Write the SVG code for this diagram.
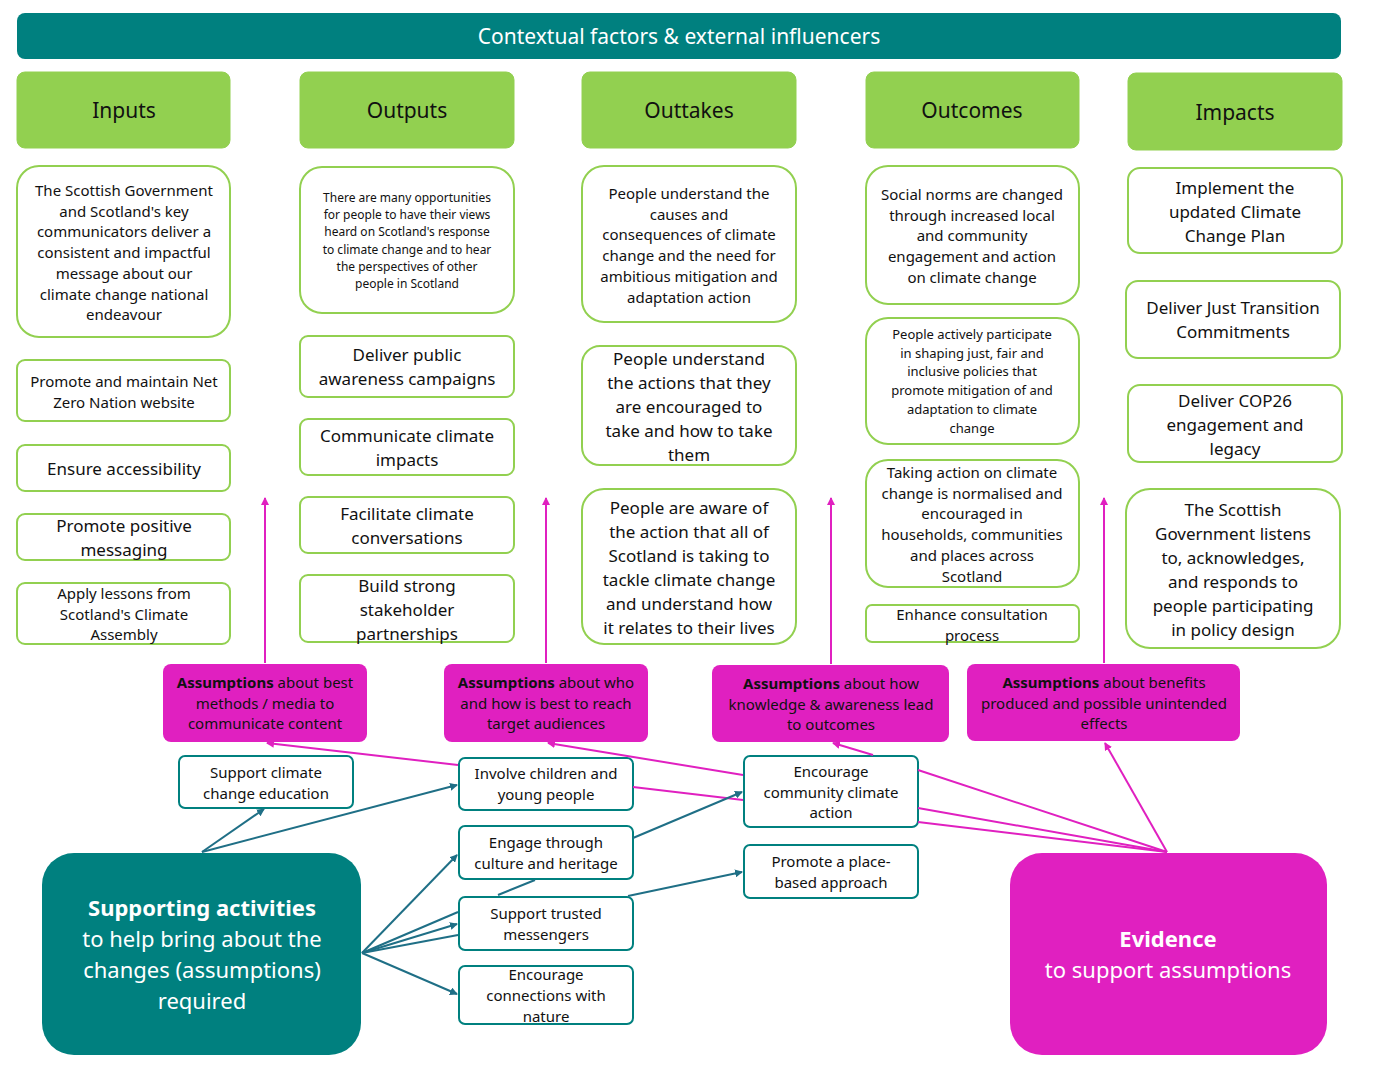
<svg xmlns="http://www.w3.org/2000/svg" width="1378" height="1065" viewBox="0 0 1378 1065">
<defs>
<marker id="at" markerWidth="8" markerHeight="8" refX="7" refY="4" orient="auto" markerUnits="userSpaceOnUse"><path d="M0,0 L8,4 L0,8 z" fill="#1f6f86"/></marker>
<marker id="am" markerWidth="8" markerHeight="8" refX="7" refY="4" orient="auto" markerUnits="userSpaceOnUse"><path d="M0,0 L8,4 L0,8 z" fill="#e020c0"/></marker>
</defs>
<style>
text{font-family:"Noto Sans","Liberation Sans",sans-serif;text-anchor:middle;fill:#111}
.hd{fill:#92d050;stroke:#92d050}
.hdt{font-size:21px}
.bx{fill:#fff;stroke:#92d050;stroke-width:2}
.tb{fill:#fff;stroke:#00807f;stroke-width:2}
.as{fill:#e020c0}
.t15{font-size:15px}.t17{font-size:17px}.t13{font-size:13px}.t12{font-size:12px}.t14{font-size:14px}
.tl{stroke:#1f6f86;stroke-width:2;fill:none}
.mg{stroke:#e020c0;stroke-width:2;fill:none}
.w{fill:#fff}
</style>
<rect x="17" y="13" width="1324" height="46" rx="8" fill="#00807f"/>
<text x="679" y="44" class="w" style="font-size:21px">Contextual factors &amp; external influencers</text>
<g id="headers">
<rect class="hd" x="17" y="72" width="213" height="76" rx="8"/><text class="hdt" x="124" y="118">Inputs</text>
<rect class="hd" x="300" y="72" width="214" height="76" rx="8"/><text class="hdt" x="407" y="118">Outputs</text>
<rect class="hd" x="582" y="72" width="214" height="76" rx="8"/><text class="hdt" x="689" y="118">Outtakes</text>
<rect class="hd" x="866" y="72" width="213" height="76" rx="8"/><text class="hdt" x="972" y="118">Outcomes</text>
<rect class="hd" x="1128" y="73" width="214" height="77" rx="8"/><text class="hdt" x="1235" y="120">Impacts</text>
</g>
<g id="inputs">
<rect class="bx" x="17" y="166" width="213" height="171" rx="22"/>
<text class="t15" x="124" y="196">The Scottish Government<tspan x="124" dy="20.7">and Scotland's key</tspan><tspan x="124" dy="20.7">communicators deliver a</tspan><tspan x="124" dy="20.7">consistent and impactful</tspan><tspan x="124" dy="20.7">message about our</tspan><tspan x="124" dy="20.7">climate change national</tspan><tspan x="124" dy="20.7">endeavour</tspan></text>
<rect class="bx" x="17" y="360" width="213" height="61" rx="8"/>
<text class="t15" x="124" y="387">Promote and maintain Net<tspan x="124" dy="20.5">Zero Nation website</tspan></text>
<rect class="bx" x="17" y="445" width="213" height="46" rx="8"/>
<text class="t17" x="124" y="475">Ensure accessibility</text>
<rect class="bx" x="17" y="514" width="213" height="46" rx="8"/>
<text class="t17" x="124" y="532">Promote positive<tspan x="124" dy="24">messaging</tspan></text>
<rect class="bx" x="17" y="583" width="213" height="61" rx="8"/>
<text class="t15" x="124" y="599">Apply lessons from<tspan x="124" dy="20.5">Scotland's Climate</tspan><tspan x="124" dy="20.5">Assembly</tspan></text>
</g>
<g id="outputs">
<rect class="bx" x="300" y="167" width="214" height="146" rx="22"/>
<text class="t12" x="407" y="202">There are many opportunities<tspan x="407" dy="17.2">for people to have their views</tspan><tspan x="407" dy="17.2">heard on Scotland's response</tspan><tspan x="407" dy="17.2">to climate change and to hear</tspan><tspan x="407" dy="17.2">the perspectives of other</tspan><tspan x="407" dy="17.2">people in Scotland</tspan></text>
<rect class="bx" x="300" y="336" width="214" height="61" rx="8"/>
<text class="t17" x="407" y="361">Deliver public<tspan x="407" dy="24">awareness campaigns</tspan></text>
<rect class="bx" x="300" y="419" width="214" height="56" rx="8"/>
<text class="t17" x="407" y="442">Communicate climate<tspan x="407" dy="24">impacts</tspan></text>
<rect class="bx" x="300" y="497" width="214" height="56" rx="8"/>
<text class="t17" x="407" y="520">Facilitate climate<tspan x="407" dy="24">conversations</tspan></text>
<rect class="bx" x="300" y="575" width="214" height="67" rx="8"/>
<text class="t17" x="407" y="592">Build strong<tspan x="407" dy="24">stakeholder</tspan><tspan x="407" dy="24">partnerships</tspan></text>
</g>
<g id="outtakes">
<rect class="bx" x="582" y="166" width="214" height="156" rx="22"/>
<text class="t15" x="689" y="199">People understand the<tspan x="689" dy="20.7">causes and</tspan><tspan x="689" dy="20.7">consequences of climate</tspan><tspan x="689" dy="20.7">change and the need for</tspan><tspan x="689" dy="20.7">ambitious mitigation and</tspan><tspan x="689" dy="20.7">adaptation action</tspan></text>
<rect class="bx" x="582" y="346" width="214" height="119" rx="18"/>
<text class="t17" x="689" y="365">People understand<tspan x="689" dy="24">the actions that they</tspan><tspan x="689" dy="24">are encouraged to</tspan><tspan x="689" dy="24">take and how to take</tspan><tspan x="689" dy="24">them</tspan></text>
<rect class="bx" x="582" y="489" width="214" height="155" rx="22"/>
<text class="t17" x="689" y="514">People are aware of<tspan x="689" dy="24">the action that all of</tspan><tspan x="689" dy="24">Scotland is taking to</tspan><tspan x="689" dy="24">tackle climate change</tspan><tspan x="689" dy="24">and understand how</tspan><tspan x="689" dy="24">it relates to their lives</tspan></text>
</g>
<g id="outcomes">
<rect class="bx" x="866" y="166" width="213" height="138" rx="22"/>
<text class="t15" x="972" y="200">Social norms are changed<tspan x="972" dy="20.7">through increased local</tspan><tspan x="972" dy="20.7">and community</tspan><tspan x="972" dy="20.7">engagement and action</tspan><tspan x="972" dy="20.7">on climate change</tspan></text>
<rect class="bx" x="866" y="318" width="213" height="126" rx="22"/>
<text class="t13" x="972" y="339">People actively participate<tspan x="972" dy="18.7">in shaping just, fair and</tspan><tspan x="972" dy="18.7">inclusive policies that</tspan><tspan x="972" dy="18.7">promote mitigation of and</tspan><tspan x="972" dy="18.7">adaptation to climate</tspan><tspan x="972" dy="18.7">change</tspan></text>
<rect class="bx" x="866" y="460" width="213" height="127" rx="22"/>
<text class="t15" x="972" y="478">Taking action on climate<tspan x="972" dy="20.7">change is normalised and</tspan><tspan x="972" dy="20.7">encouraged in</tspan><tspan x="972" dy="20.7">households, communities</tspan><tspan x="972" dy="20.7">and places across</tspan><tspan x="972" dy="20.7">Scotland</tspan></text>
<rect class="bx" x="866" y="605" width="213" height="37" rx="6"/>
<text class="t15" x="972" y="620">Enhance consultation<tspan x="972" dy="20.7">process</tspan></text>
</g>
<g id="impacts">
<rect class="bx" x="1128" y="168" width="214" height="85" rx="12"/>
<text class="t17" x="1235" y="194">Implement the<tspan x="1235" dy="24">updated Climate</tspan><tspan x="1235" dy="24">Change Plan</tspan></text>
<rect class="bx" x="1126" y="281" width="214" height="77" rx="12"/>
<text class="t17" x="1233" y="314">Deliver Just Transition<tspan x="1233" dy="24">Commitments</tspan></text>
<rect class="bx" x="1128" y="385" width="214" height="77" rx="12"/>
<text class="t17" x="1235" y="407">Deliver COP26<tspan x="1235" dy="24">engagement and</tspan><tspan x="1235" dy="24">legacy</tspan></text>
<rect class="bx" x="1126" y="489" width="214" height="159" rx="24"/>
<text class="t17" x="1233" y="516">The Scottish<tspan x="1233" dy="24">Government listens</tspan><tspan x="1233" dy="24">to, acknowledges,</tspan><tspan x="1233" dy="24">and responds to</tspan><tspan x="1233" dy="24">people participating</tspan><tspan x="1233" dy="24">in policy design</tspan></text>
</g>
<g id="assumptions">
<rect class="as" x="163" y="664" width="204" height="78" rx="8"/>
<text class="t15" x="265" y="688"><tspan font-weight="bold">Assumptions</tspan> about best<tspan x="265" dy="20.5">methods / media to</tspan><tspan x="265" dy="20.5">communicate content</tspan></text>
<rect class="as" x="444" y="664" width="204" height="78" rx="8"/>
<text class="t15" x="546" y="688"><tspan font-weight="bold">Assumptions</tspan> about who<tspan x="546" dy="20.5">and how is best to reach</tspan><tspan x="546" dy="20.5">target audiences</tspan></text>
<rect class="as" x="712" y="665" width="237" height="77" rx="8"/>
<text class="t15" x="831" y="689"><tspan font-weight="bold">Assumptions</tspan> about how<tspan x="831" dy="20.5">knowledge &amp; awareness lead</tspan><tspan x="831" dy="20.5">to outcomes</tspan></text>
<rect class="as" x="967" y="664" width="273" height="77" rx="8"/>
<text class="t15" x="1104" y="688"><tspan font-weight="bold">Assumptions</tspan> about benefits<tspan x="1104" dy="20.5">produced and possible unintended</tspan><tspan x="1104" dy="20.5">effects</tspan></text>
</g>
<g id="activities">
<rect class="tb" x="179" y="756" width="174" height="52" rx="6"/>
<text class="t15" x="266" y="778">Support climate<tspan x="266" dy="21">change education</tspan></text>
<rect class="tb" x="459" y="758" width="174" height="52" rx="6"/>
<text class="t15" x="546" y="779">Involve children and<tspan x="546" dy="21">young people</tspan></text>
<rect class="tb" x="459" y="826" width="174" height="53" rx="6"/>
<text class="t15" x="546" y="848">Engage through<tspan x="546" dy="21">culture and heritage</tspan></text>
<rect class="tb" x="459" y="897" width="174" height="53" rx="6"/>
<text class="t15" x="546" y="919">Support trusted<tspan x="546" dy="21">messengers</tspan></text>
<rect class="tb" x="459" y="966" width="174" height="58" rx="6"/>
<text class="t15" x="546" y="980">Encourage<tspan x="546" dy="21">connections with</tspan><tspan x="546" dy="21">nature</tspan></text>
<rect class="tb" x="744" y="756" width="174" height="71" rx="6"/>
<text class="t15" x="831" y="777">Encourage<tspan x="831" dy="20.5">community climate</tspan><tspan x="831" dy="20.5">action</tspan></text>
<rect class="tb" x="744" y="845" width="174" height="53" rx="6"/>
<text class="t15" x="831" y="867">Promote a place-<tspan x="831" dy="21">based approach</tspan></text>
</g>
<g id="supporting">
<rect x="42" y="853" width="319" height="202" rx="32" fill="#00807f"/>
<text x="202" y="916" class="w" style="font-size:22px"><tspan font-weight="bold">Supporting activities</tspan><tspan x="202" dy="31">to help bring about the</tspan><tspan x="202" dy="31">changes (assumptions)</tspan><tspan x="202" dy="31">required</tspan></text>
</g>
<g id="evidence">
<rect x="1010" y="853" width="317" height="202" rx="32" fill="#e020c0"/>
<text x="1168" y="947" class="w" style="font-size:22px"><tspan font-weight="bold">Evidence</tspan><tspan x="1168" dy="31">to support assumptions</tspan></text>
</g>
<g id="connectors">
<line class="mg" x1="265" y1="663" x2="265" y2="498" marker-end="url(#am)"/>
<line class="mg" x1="546" y1="663" x2="546" y2="498" marker-end="url(#am)"/>
<line class="mg" x1="831" y1="664" x2="831" y2="498" marker-end="url(#am)"/>
<line class="mg" x1="1104" y1="663" x2="1104" y2="498" marker-end="url(#am)"/>
<line class="mg" x1="458" y1="765" x2="267" y2="743" marker-end="url(#am)"/>
<line class="mg" x1="743" y1="775" x2="548" y2="743" marker-end="url(#am)"/>
<line class="mg" x1="633" y1="787" x2="743" y2="800"/>
<line class="mg" x1="873" y1="755" x2="833" y2="743" marker-end="url(#am)"/>
<line class="mg" x1="1167" y1="852" x2="918" y2="770"/>
<line class="mg" x1="1167" y1="852" x2="918" y2="808"/>
<line class="mg" x1="1167" y1="852" x2="918" y2="822"/>
<line class="mg" x1="1167" y1="852" x2="1105" y2="743" marker-end="url(#am)"/>
<line class="tl" x1="202" y1="852" x2="264" y2="809" marker-end="url(#at)"/>
<line class="tl" x1="202" y1="852" x2="457" y2="785" marker-end="url(#at)"/>
<line class="tl" x1="633" y1="838" x2="742" y2="792" marker-end="url(#at)"/>
<line class="tl" x1="498" y1="895" x2="535" y2="880"/>
<line class="tl" x1="628" y1="896" x2="742" y2="872" marker-end="url(#at)"/>
<line class="tl" x1="362" y1="953" x2="457" y2="855" marker-end="url(#at)"/>
<line class="tl" x1="362" y1="953" x2="458" y2="912"/>
<line class="tl" x1="362" y1="953" x2="457" y2="924" marker-end="url(#at)"/>
<line class="tl" x1="362" y1="953" x2="458" y2="935"/>
<line class="tl" x1="362" y1="953" x2="457" y2="994" marker-end="url(#at)"/>
</g>
</svg>
